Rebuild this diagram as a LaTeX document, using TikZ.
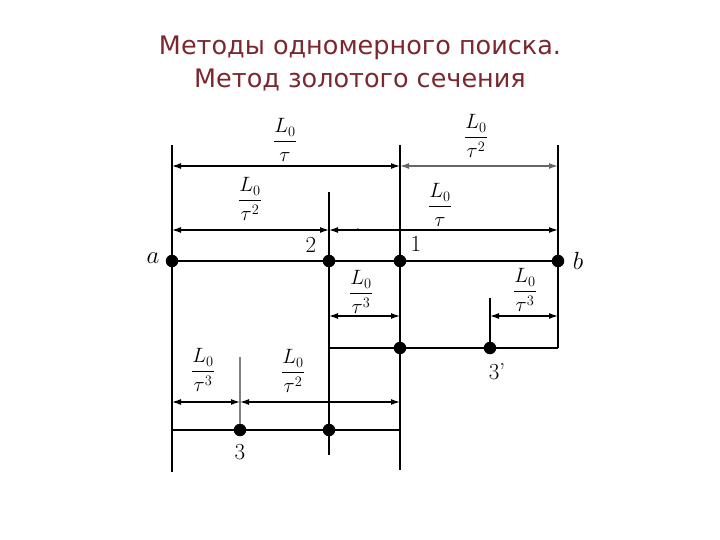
\documentclass[tikz,border=0pt]{standalone}
\usepackage{amsmath, amssymb}
\usepackage{fontspec}
\newfontfamily\titlefont{DejaVu Sans}
\usetikzlibrary{positioning, arrows.meta}
\definecolor{titlered}{RGB}{122,40,46}
\tikzset{
  x=1pt, y=-1pt,
  axis/.style={line width=1.4pt},
  dim/.style={{Latex[length=9pt,width=6pt]}-{Latex[length=9pt,width=6pt]}, line width=1.3pt},
  pt/.style={circle, fill=black, inner sep=0pt, minimum size=12.5pt},
  frac/.style={font=\fontsize{20}{22}\selectfont},
  num/.style={font=\fontsize{23}{25}\selectfont}
}

\begin{document}
\begin{tikzpicture}
      \useasboundingbox (0,0) rectangle (720,540);
      
      % title
      \node[titlered, font=\titlefont\fontsize{25.5}{33}\selectfont, align=center] (title) at (360,63)
        {Методы одномерного поиска.\\Метод золотого сечения};
      
      % points
      \node[pt] (a) at (172,261) {};
      \node[pt] (p2) at (329,261) {};
      \node[pt] (p1) at (400,261) {};
      \node[pt] (b) at (558,261) {};
      \node[pt] (q1) at (400,348) {};
      \node[pt] (q3) at (490,348) {};
      \node[pt] (r3) at (240,430) {};
      \node[pt] (r2) at (329,430) {};
      
      % ends of the vertical lines
      \coordinate (aT) at (172,145);  \coordinate (aB) at (172,472);
      \coordinate (oneT) at (400,145); \coordinate (oneB) at (400,470);
      \coordinate (bT) at (558,145);  \coordinate (bB) at (558,348);
      \coordinate (twoT) at (329,192); \coordinate (twoB) at (329,455);
      \coordinate (qsT) at (490,298);
      \coordinate (rT) at (240,357);
      \coordinate (qL) at (329,348);
      
      \draw[axis] (aT) -- (aB);
      \draw[axis] (oneT) -- (oneB);
      \draw[axis] (bT) -- (bB);
      \draw[axis] (twoT) -- (twoB);
      \draw[axis] (qsT) -- (q3);
      \draw[axis, gray] (rT) -- (r3);
      
      % horizontal lines
      \draw[axis] (a) -- (b);
      \draw[axis] (qL) -- (bB);
      \draw[axis] (a |- r3) -- (oneB |- r3);
      
      % dimension arrows
      \draw[dim] (aT |- 0,166) -- (oneT |- 0,166);
      \draw[dim, gray!80!black] (oneT |- 0,166) -- (bT |- 0,166);
      \draw[dim] (aT |- 0,230) -- (twoT |- 0,230);
      \draw[dim] (twoT |- 0,230) -- (bT |- 0,230);
      \draw[dim] (twoT |- 0,316) -- (oneT |- 0,316);
      \draw[dim] (qsT |- 0,316) -- (bT |- 0,316);
      \draw[dim] (aT |- 0,402) -- (rT |- 0,402);
      \draw[dim] (rT |- 0,402) -- (oneT |- 0,402);
      
      % labels
      \node[frac] (l1) at (285,140) {$\dfrac{L_0}{\tau}$};
      \node[frac] (l2) at (476,136) {$\dfrac{L_0}{\tau^{2}}$};
      \node[frac] (l3) at (250,199) {$\dfrac{L_0}{\tau^{2}}$};
      \node[frac] (l4) at (440,205) {$\dfrac{L_0}{\tau}$};
      \node[frac] (l5) at (361,292) {$\dfrac{L_0}{\tau^{3}}$};
      \node[frac] (l6) at (525,290) {$\dfrac{L_0}{\tau^{3}}$};
      \node[frac] (l7) at (203,370) {$\dfrac{L_0}{\tau^{3}}$};
      \node[frac] (l8) at (293,371) {$\dfrac{L_0}{\tau^{2}}$};
      
      \node[num] (n2) at (311,245) {2};
      \node[num] (n1) at (416,244) {1};
      \node[num] (n3s) at (497,372) {3’};
      \node[num] (n3) at (240,452) {3};
      \node[num] (na) at (153,258) {$a$};
      \node[num] (nb) at (578,261) {$b$};
      \node (dot) at (358,229) {.};
      
\end{tikzpicture}
\end{document}
